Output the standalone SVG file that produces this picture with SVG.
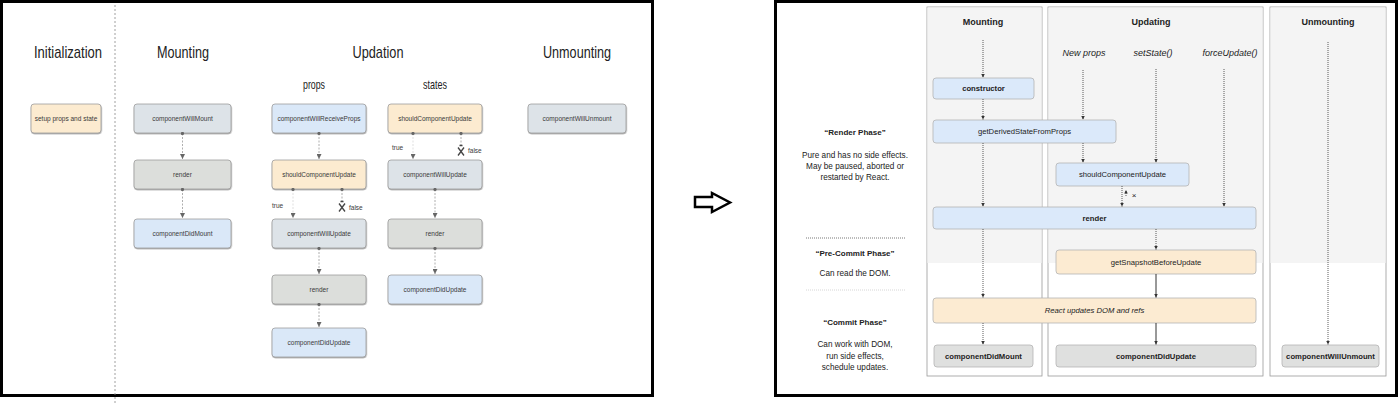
<svg xmlns="http://www.w3.org/2000/svg" width="1400" height="403" viewBox="0 0 1400 403">
<style>
.frame{fill:none;stroke:#000;stroke-width:3}
.t{font-family:"Liberation Sans",Arial,sans-serif;text-anchor:middle;fill:#222}
.h1{font-size:17px}
.h2{font-size:13px}
.ln{font-size:6.5px;fill:#3a3a3a}
.lab{font-size:6.5px;fill:#3a3a3a;text-anchor:start}
.lbox{stroke:#9c9c9c;stroke-width:0.8;filter:url(#sh)}
.peach{fill:#fcebd0}
.gblue{fill:#dde3e8}
.gray{fill:#dcdedb}
.blue{fill:#dae8f8}
.lc{stroke:#9a9a9a;stroke-width:0.8;stroke-dasharray:2,1.5;fill:none}
.xm{stroke:#444;stroke-width:1.3;fill:none}
.col{fill:#fff;stroke:#9a9a9a;stroke-width:0.8}
.colbg{fill:#f4f4f4}
.rbox{stroke:#b4b4b4;stroke-width:0.8}
.rblue{fill:#dbe9fa}
.rpeach{fill:#fcebd2}
.rgray{fill:#dfe0df}
.rh{font-size:9px;font-weight:bold}
.ri{font-size:9px;font-style:italic}
.rn{font-size:7.7px}
.rb{font-size:7.7px;font-weight:bold}
.rd{font-size:8.2px}
.rp{font-size:8px;font-weight:bold}
.rc{stroke:#333;stroke-width:0.8;stroke-dasharray:1,1;fill:none}
.rs{stroke:#333;stroke-width:1;fill:none}
.sep{stroke:#555;stroke-width:0.8;stroke-dasharray:1,1}
.sep2{stroke:#ccc;stroke-width:0.8;stroke-dasharray:1,1}
</style>
<defs>
<filter id="sh" x="-10%" y="-10%" width="120%" height="140%">
<feDropShadow dx="0.4" dy="1" stdDeviation="0.5" flood-color="#777" flood-opacity="0.6"/>
</filter>
<marker id="la" markerUnits="userSpaceOnUse" markerWidth="5" markerHeight="5" viewBox="0 0 6 6" refX="6" refY="3" orient="auto">
<path d="M0,0 L6,3 L0,6 z" fill="#666"/>
</marker>
<marker id="ld" markerUnits="userSpaceOnUse" markerWidth="4" markerHeight="4" viewBox="0 0 4 4" refX="2" refY="2">
<circle cx="2" cy="2" r="1.6" fill="#666"/>
</marker>
<marker id="ra" markerUnits="userSpaceOnUse" markerWidth="3.5" markerHeight="3.5" viewBox="0 0 6 6" refX="6" refY="3" orient="auto">
<path d="M0,0 L6,3 L0,6 z" fill="#333"/>
</marker>
</defs>
<rect x="0" y="0" width="1400" height="403" fill="#fff"/>

<!-- LEFT PANEL -->
<g id="left-panel">
<rect class="frame" x="1.5" y="1.5" width="651" height="394"/>
<line x1="115" y1="5" x2="115" y2="403" stroke="#888" stroke-width="0.8" stroke-dasharray="2,2"/>
<text class="t h1" x="68" y="58" textLength="68" lengthAdjust="spacingAndGlyphs">Initialization</text>
<text class="t h1" x="183" y="58" textLength="52" lengthAdjust="spacingAndGlyphs">Mounting</text>
<text class="t h1" x="378" y="58" textLength="51" lengthAdjust="spacingAndGlyphs">Updation</text>
<text class="t h1" x="577" y="58" textLength="68" lengthAdjust="spacingAndGlyphs">Unmounting</text>
<text class="t h2" x="314" y="89" textLength="22" lengthAdjust="spacingAndGlyphs">props</text>
<text class="t h2" x="435" y="89" textLength="24" lengthAdjust="spacingAndGlyphs">states</text>
</g>

<g id="l-setup"><rect class="lbox peach" x="31" y="104" width="70" height="29" rx="3"/><text class="t ln" x="66" y="120.8">setup props and state</text></g>
<g id="l-cwm"><rect class="lbox gblue" x="134" y="104" width="97" height="29" rx="3"/><text class="t ln" x="182.5" y="120.8">componentWillMount</text></g>
<g id="l-render-m"><rect class="lbox gray" x="134" y="160" width="97" height="29" rx="3"/><text class="t ln" x="182.5" y="176.8">render</text></g>
<g id="l-cdm"><rect class="lbox blue" x="134" y="219" width="97" height="29" rx="3"/><text class="t ln" x="182.5" y="235.8">componentDidMount</text></g>

<g id="l-cwrp"><rect class="lbox blue" x="272" y="104" width="94" height="29" rx="3"/><text class="t ln" x="319" y="120.8">componentWillReceiveProps</text></g>
<g id="l-scu-p"><rect class="lbox peach" x="272" y="160" width="94" height="29" rx="3"/><text class="t ln" x="319" y="176.8">shouldComponentUpdate</text></g>
<g id="l-cwu-p"><rect class="lbox gblue" x="272" y="219" width="94" height="29" rx="3"/><text class="t ln" x="319" y="235.8">componentWillUpdate</text></g>
<g id="l-render-p"><rect class="lbox gray" x="272" y="275" width="94" height="29" rx="3"/><text class="t ln" x="319" y="291.8">render</text></g>
<g id="l-cdu-p"><rect class="lbox blue" x="272" y="328" width="94" height="29" rx="3"/><text class="t ln" x="319" y="344.8">componentDidUpdate</text></g>

<g id="l-scu-s"><rect class="lbox peach" x="388" y="104" width="94" height="29" rx="3"/><text class="t ln" x="435" y="120.8">shouldComponentUpdate</text></g>
<g id="l-cwu-s"><rect class="lbox gblue" x="388" y="160" width="94" height="29" rx="3"/><text class="t ln" x="435" y="176.8">componentWillUpdate</text></g>
<g id="l-render-s"><rect class="lbox gray" x="388" y="219" width="94" height="29" rx="3"/><text class="t ln" x="435" y="235.8">render</text></g>
<g id="l-cdu-s"><rect class="lbox blue" x="388" y="275" width="94" height="29" rx="3"/><text class="t ln" x="435" y="291.8">componentDidUpdate</text></g>

<g id="l-cwum"><rect class="lbox gblue" x="528" y="104" width="98" height="29" rx="3"/><text class="t ln" x="577" y="120.8">componentWillUnmount</text></g>

<g id="left-connectors">
<line class="lc" x1="182.5" y1="133.5" x2="182.5" y2="159" marker-start="url(#ld)" marker-end="url(#la)"/>
<line class="lc" x1="182.5" y1="189.5" x2="182.5" y2="218" marker-start="url(#ld)" marker-end="url(#la)"/>
<line class="lc" x1="319" y1="133.5" x2="319" y2="159" marker-start="url(#ld)" marker-end="url(#la)"/>
<line class="lc" x1="293" y1="189.5" x2="293" y2="218" marker-start="url(#ld)" marker-end="url(#la)" stroke-opacity="0.4"/>
<line class="lc" x1="342" y1="189.5" x2="342" y2="201" marker-start="url(#ld)"/>
<path class="xm" d="M339,203.5 L345,211.5 M345,203.5 L339,211.5 M340.5,201.5 L343.5,201.5"/>
<text class="t lab" x="272" y="208">true</text>
<text class="t lab" x="349" y="210">false</text>
<line class="lc" x1="319" y1="248.5" x2="319" y2="274" marker-start="url(#ld)" marker-end="url(#la)"/>
<line class="lc" x1="319" y1="304.5" x2="319" y2="327" marker-start="url(#ld)" marker-end="url(#la)"/>
<line class="lc" x1="413" y1="133.5" x2="413" y2="159" marker-start="url(#ld)" marker-end="url(#la)" stroke-opacity="0.4"/>
<line class="lc" x1="461" y1="133.5" x2="461" y2="145" marker-start="url(#ld)"/>
<path class="xm" d="M458,147.5 L464,155.5 M464,147.5 L458,155.5 M459.5,145.5 L462.5,145.5"/>
<text class="t lab" x="392" y="150">true</text>
<text class="t lab" x="468" y="153">false</text>
<line class="lc" x1="435" y1="189.5" x2="435" y2="218" marker-start="url(#ld)" marker-end="url(#la)"/>
<line class="lc" x1="435" y1="248.5" x2="435" y2="274" marker-start="url(#ld)" marker-end="url(#la)"/>
</g>

<!-- ARROW BETWEEN -->
<g id="between-arrow">
<polygon points="695,197 712,197 712,193 730,202.5 712,212 712,207 695,207" fill="#fff" stroke="#000" stroke-width="2.5" stroke-linejoin="miter"/>
</g>

<!-- RIGHT PANEL -->
<g id="right-panel">
<rect class="frame" x="775.5" y="1.5" width="621" height="394"/>
<rect class="col" x="927" y="7" width="115" height="369"/>
<rect class="colbg" x="927.4" y="7.4" width="114.2" height="255.6"/>
<rect class="col" x="1048" y="7" width="215" height="369"/>
<rect class="colbg" x="1048.4" y="7.4" width="214.2" height="255.6"/>
<rect class="col" x="1270" y="7" width="116" height="369"/>
<rect class="colbg" x="1270.4" y="7.4" width="115.2" height="255.6"/>
<text class="t rh" x="983" y="25">Mounting</text>
<text class="t rh" x="1151" y="25">Updating</text>
<text class="t rh" x="1328" y="25">Unmounting</text>
<text class="t ri" x="1084" y="56">New props</text>
<text class="t ri" x="1153" y="56">setState()</text>
<text class="t ri" x="1230" y="56">forceUpdate()</text>

<text class="t rp" x="855" y="135">“Render Phase”</text>
<text class="t rd" x="855" y="157.5">Pure and has no side effects.</text>
<text class="t rd" x="855" y="168.5">May be paused, aborted or</text>
<text class="t rd" x="855" y="179.5">restarted by React.</text>
<line class="sep" x1="806" y1="238" x2="905" y2="238"/>
<text class="t rp" x="855" y="256">“Pre-Commit Phase”</text>
<text class="t rd" x="855" y="276">Can read the DOM.</text>
<line class="sep2" x1="806" y1="290" x2="905" y2="290"/>
<text class="t rp" x="855" y="325">“Commit Phase”</text>
<text class="t rd" x="855" y="347">Can work with DOM,</text>
<text class="t rd" x="855" y="358.5">run side effects,</text>
<text class="t rd" x="855" y="370">schedule updates.</text>
</g>

<g id="r-constructor"><rect class="rbox rblue" x="933" y="78" width="101" height="21" rx="3"/><text class="t rb" x="983.5" y="91.3">constructor</text></g>
<g id="r-gdsfp"><rect class="rbox rblue" x="933" y="120" width="183" height="23" rx="3"/><text class="t rn" x="1024.5" y="134.3">getDerivedStateFromProps</text></g>
<g id="r-scu"><rect class="rbox rblue" x="1056" y="163" width="133" height="23" rx="3"/><text class="t rn" x="1122.5" y="177.3">shouldComponentUpdate</text></g>
<g id="r-render"><rect class="rbox rblue" x="933" y="207" width="323" height="22" rx="3"/><text class="t rb" x="1094.5" y="220.8">render</text></g>
<g id="r-gsbu"><rect class="rbox rpeach" x="1056" y="250" width="200" height="24" rx="3"/><text class="t rn" x="1156" y="264.8">getSnapshotBeforeUpdate</text></g>
<g id="r-react"><rect class="rbox rpeach" x="933" y="298" width="323" height="25" rx="3"/><text class="t rn" x="1094.5" y="313.3" font-style="italic">React updates DOM and refs</text></g>
<g id="r-cdm"><rect class="rbox rgray" x="934" y="345" width="99" height="22" rx="3"/><text class="t rb" x="983.5" y="358.8">componentDidMount</text></g>
<g id="r-cdu"><rect class="rbox rgray" x="1056" y="345" width="200" height="22" rx="3"/><text class="t rb" x="1156" y="358.8">componentDidUpdate</text></g>
<g id="r-cwu"><rect class="rbox rgray" x="1282" y="345" width="97" height="22" rx="3"/><text class="t rb" x="1330.5" y="358.8">componentWillUnmount</text></g>

<g id="right-connectors">
<line class="rc" x1="983" y1="40" x2="983" y2="77.5" marker-end="url(#ra)"/>
<line class="rc" x1="983" y1="99" x2="983" y2="119.5" marker-end="url(#ra)"/>
<line class="rc" x1="983" y1="143" x2="983" y2="206.5" marker-end="url(#ra)"/>
<line class="rc" x1="983" y1="229" x2="983" y2="297.5" marker-end="url(#ra)"/>
<line class="rc" x1="983" y1="323" x2="983" y2="344.5" marker-end="url(#ra)"/>
<line class="rc" x1="1083" y1="70" x2="1083" y2="119.5" marker-end="url(#ra)"/>
<line class="rc" x1="1083" y1="143" x2="1083" y2="162.5" marker-end="url(#ra)"/>
<line class="rc" x1="1156" y1="69" x2="1156" y2="162.5" marker-end="url(#ra)"/>
<line class="rc" x1="1224" y1="69" x2="1224" y2="206.5" marker-end="url(#ra)"/>
<line class="rc" x1="1122" y1="186" x2="1122" y2="206.5" marker-end="url(#ra)"/>
<line class="rc" x1="1126" y1="196" x2="1126" y2="190" marker-end="url(#ra)"/>
<text class="t" x="1134" y="197.5" font-size="8px">×</text>
<line class="rc" x1="1156" y1="229" x2="1156" y2="249.5" marker-end="url(#ra)"/>
<line class="rs" x1="1156" y1="274" x2="1156" y2="297.5" marker-end="url(#ra)"/>
<line class="rs" x1="1156" y1="323" x2="1156" y2="344.5" marker-end="url(#ra)"/>
<line class="rc" x1="1328" y1="42" x2="1328" y2="344.5" marker-end="url(#ra)"/>
</g>
</svg>
